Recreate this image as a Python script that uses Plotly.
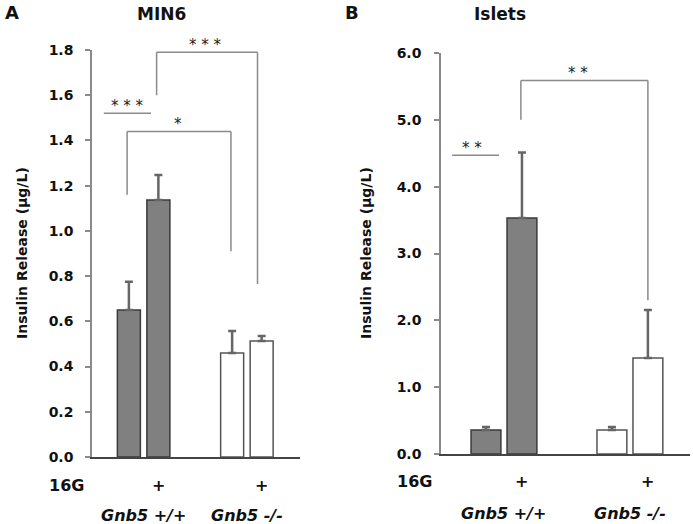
import plotly.graph_objects as go

# ---- data ----
groups = ["Gnb5 +/+", "Gnb5 +/+", "Gnb5 -/-", "Gnb5 -/-"]
glucose = ["", "+", "", "+"]
bar_pos_a = [0, 1, 3.5, 4.5]
bar_pos_b = [0, 1, 3.5, 4.5]

min6_mean = [0.65, 1.137, 0.46, 0.513]
min6_err = [0.125, 0.11, 0.097, 0.022]

islet_mean = [0.36, 3.53, 0.36, 1.435]
islet_err = [0.045, 0.98, 0.045, 0.72]

bar_fill = ["#808080", "#808080", "#ffffff", "#ffffff"]
bar_edge = ["#3a3a3a", "#3a3a3a", "#555555", "#555555"]

W, H = 693, 524
FONT = "DejaVu Sans, Arial, sans-serif"
LINE = "#8a8a8a"
STAR = "#222222"

fig = go.Figure()

fig.add_trace(go.Bar(
    x=bar_pos_a, y=min6_mean, width=0.78,
    marker=dict(color=bar_fill, line=dict(color=bar_edge, width=1.5)),
    error_y=dict(type="data", symmetric=False, array=min6_err,
                 arrayminus=[0] * 4, color="#666666", thickness=2.5, width=4),
    xaxis="x", yaxis="y", showlegend=False, hoverinfo="skip"))

fig.add_trace(go.Bar(
    x=bar_pos_b, y=islet_mean, width=0.83,
    marker=dict(color=bar_fill, line=dict(color=bar_edge, width=1.5)),
    error_y=dict(type="data", symmetric=False, array=islet_err,
                 arrayminus=[0] * 4, color="#666666", thickness=2.5, width=4),
    xaxis="x2", yaxis="y2", showlegend=False, hoverinfo="skip"))

tickfont = dict(family=FONT, size=14, color="#111111", weight="bold")

fig.update_layout(
    width=W, height=H,
    margin=dict(l=0, r=0, t=0, b=0, pad=0, autoexpand=False),
    paper_bgcolor="white", plot_bgcolor="white",
    xaxis=dict(domain=[92 / W, 300 / W], range=[-1.25, 5.8], showline=True,
               linecolor="#444444", linewidth=1.5, showticklabels=False,
               ticks="", showgrid=False, zeroline=False, anchor="y",
               automargin=False),
    yaxis=dict(domain=[(H - 457) / H, (H - 50) / H], range=[0, 1.8],
               tickvals=[0, 0.2, 0.4, 0.6, 0.8, 1.0, 1.2, 1.4, 1.6, 1.8],
               tickformat=".1f", showline=True, linecolor=LINE, linewidth=1.5,
               ticks="outside", ticklen=5, tickcolor=LINE, tickwidth=1.5,
               showgrid=False, zeroline=False, tickfont=tickfont,
               ticklabelstandoff=9, anchor="x", automargin=False),
    xaxis2=dict(domain=[441 / W, 690 / W], range=[-1.25, 5.67], showline=True,
                linecolor="#444444", linewidth=1.5, showticklabels=False,
                ticks="", showgrid=False, zeroline=False, anchor="y2",
                automargin=False),
    yaxis2=dict(domain=[(H - 454) / H, (H - 53) / H], range=[0, 6],
                tickvals=[0, 1, 2, 3, 4, 5, 6], tickformat=".1f",
                showline=True, linecolor=LINE, linewidth=1.5,
                ticks="outside", ticklen=5, tickcolor=LINE, tickwidth=1.5,
                showgrid=False, zeroline=False, tickfont=tickfont,
                ticklabelstandoff=10, anchor="x2", automargin=False),
)

shapes = []
ann = []


def seg(xr, yr, x0, y0, x1, y1):
    shapes.append(dict(type="line", xref=xr, yref=yr, x0=x0, y0=y0, x1=x1,
                       y1=y1, line=dict(color=LINE, width=1.5)))


def stars(xr, yr, x, y, txt):
    ann.append(dict(xref=xr, yref=yr, x=x, y=y, text=txt, showarrow=False,
                    xanchor="center", yanchor="bottom", yshift=-4,
                    font=dict(family=FONT, size=15, color=STAR)))


# Panel A brackets
seg("x", "y", -0.85, 1.52, 0.75, 1.52)
stars("x", "y", -0.05, 1.52, "* * *")
seg("x", "y", -0.06, 1.44, 3.46, 1.44)
seg("x", "y", -0.06, 1.44, -0.06, 1.16)
seg("x", "y", 3.46, 1.44, 3.46, 0.91)
stars("x", "y", 1.65, 1.44, "*")
seg("x", "y", 0.94, 1.79, 4.36, 1.79)
seg("x", "y", 0.94, 1.79, 0.94, 1.60)
seg("x", "y", 4.36, 1.79, 4.36, 0.765)
stars("x", "y", 2.6, 1.79, "* * *")

# Panel B brackets
seg("x2", "y2", -0.94, 4.47, 0.36, 4.47)
stars("x2", "y2", -0.4, 4.47, "* *")
seg("x2", "y2", 0.97, 5.59, 4.5, 5.59)
seg("x2", "y2", 0.97, 5.59, 0.97, 5.0)
seg("x2", "y2", 4.5, 5.59, 4.5, 2.3)
stars("x2", "y2", 2.55, 5.59, "* *")

fig.update_layout(shapes=shapes)

bold = dict(family=FONT, size=14, color="#111111", weight="bold")
bold16 = dict(family=FONT, size=16, color="#111111", weight="bold")
bolditalic = dict(family=FONT, size=16, color="#111111", weight="bold",
                  style="italic")


def paper_text(x, y, txt, font, **kw):
    ann.append(dict(xref="paper", yref="paper", x=x / W, y=1 - y / H,
                    text=txt, showarrow=False, font=font,
                    xanchor="center", yanchor="middle", **kw))


# panel letters and titles
paper_text(12, 12, "A", dict(family=FONT, size=18, color="#111111", weight="bold"))
paper_text(352, 12, "B", dict(family=FONT, size=18, color="#111111", weight="bold"))
paper_text(161, 14, "MIN6", dict(family=FONT, size=17, color="#111111", weight="bold"))
paper_text(500, 14, "Islets", dict(family=FONT, size=17, color="#111111", weight="bold"))

# y axis titles
paper_text(22, 253, "Insulin Release (μg/L)", bold, textangle=-90)
paper_text(366, 253, "Insulin Release (μg/L)", bold, textangle=-90)

# 16G rows
paper_text(66, 485, "16G", bold16)
paper_text(414, 481, "16G", bold16)
for xr, pos in (("x", bar_pos_a), ("x2", bar_pos_b)):
    rowy = 1 - (485 if xr == "x" else 481) / H
    for p, g in zip(pos, glucose):
        if g:
            ann.append(dict(xref=xr, yref="paper", x=p, y=rowy, text=g,
                            showarrow=False, font=bold16,
                            xanchor="center", yanchor="middle"))
    # genotype labels
    gy = 1 - (515 if xr == "x" else 513) / H
    seen = []
    for i, g in enumerate(groups):
        if g in seen:
            continue
        seen.append(g)
        idx = [j for j, gg in enumerate(groups) if gg == g]
        cx = sum(pos[j] for j in idx) / len(idx)
        ann.append(dict(xref=xr, yref="paper", x=cx, y=gy, text=g,
                        showarrow=False, font=bolditalic,
                        xanchor="center", yanchor="middle"))

fig.update_layout(annotations=ann, hovermode=False)
fig.write_html(
    "out.html",
    config={"displayModeBar": False},
    post_script="document.body.style.margin='0';document.body.style.overflow='hidden';",
)
